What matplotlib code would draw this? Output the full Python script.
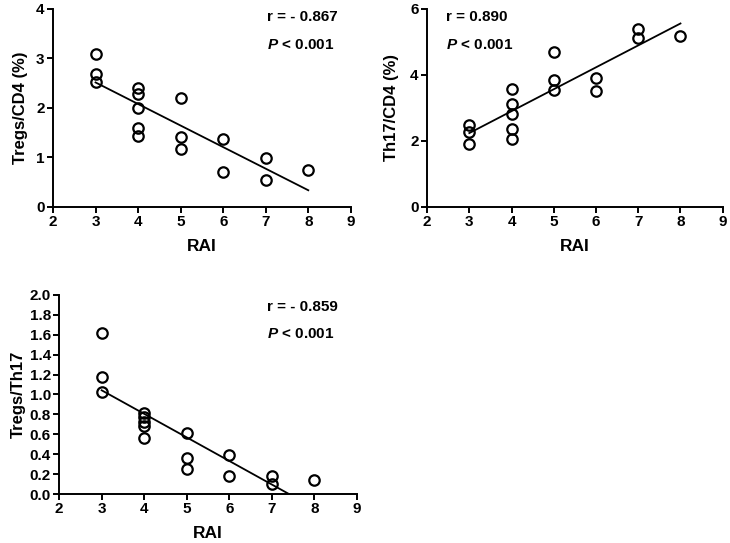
import numpy as np
import matplotlib
matplotlib.use("Agg")
import matplotlib.pyplot as plt
from matplotlib.ticker import FormatStrFormatter

plt.rcParams['font.family'] = ['Liberation Sans', 'DejaVu Sans']
plt.rcParams['font.weight'] = 'bold'
plt.rcParams['mathtext.fontset'] = 'custom'
plt.rcParams['mathtext.it'] = 'Liberation Sans:italic'
plt.rcParams['mathtext.rm'] = 'Liberation Sans:bold'

rai = [3, 3, 3, 4, 4, 4, 4, 4, 5, 5, 5, 6, 6, 7, 7, 8]
tregs_cd4 = [3.08, 2.69, 2.53, 2.40, 2.28, 1.99, 1.60, 1.44, 2.20, 1.41, 1.16, 1.37, 0.71, 0.98, 0.55, 0.74]
th17_cd4 = [2.47, 2.27, 1.89, 3.56, 3.11, 2.82, 2.35, 2.05, 4.69, 3.83, 3.54, 3.89, 3.51, 5.38, 5.11, 5.18]
tregs_th17 = [1.62, 1.18, 1.03, 0.81, 0.77, 0.72, 0.68, 0.56, 0.61, 0.36, 0.25, 0.39, 0.18, 0.18, 0.10, 0.14]

ylabels = ["Tregs/CD4 (%)", "Th17/CD4 (%)", "Tregs/Th17"]
r_texts = ["r = - 0.867", "r = 0.890", "r = - 0.859"]
yticks_list = [[0, 1, 2, 3, 4], [0, 2, 4, 6], [round(0.2 * i, 1) for i in range(11)]]
xticks = [2, 3, 4, 5, 6, 7, 8, 9]

fig = plt.figure(figsize=(7.30, 5.43), dpi=100)
positions = [
    [0.0726, 0.619, 0.408, 0.365],
    [0.585, 0.619, 0.405, 0.365],
    [0.081, 0.090, 0.408, 0.367],
]
text_pos = [(0.718, 0.96, 0.818), (0.064, 0.96, 0.818), (0.698, 0.941, 0.804)]
ylabelpads = [6, 8, 3]
series = [tregs_cd4, th17_cd4, tregs_th17]

for i in range(3):
    ax = fig.add_axes(positions[i])
    x = np.array(rai, dtype=float)
    y = np.array(series[i])
    m, b = np.polyfit(x, y, 1)
    xl = np.array([min(rai), max(rai)], dtype=float)
    ax.plot(xl, m * xl + b, color='black', lw=1.3, zorder=2)
    ax.plot(x, y, 'o', mfc='none', mec='black', mew=1.6, ms=7.5, zorder=3, clip_on=False)
    yt = yticks_list[i]
    ax.set_xlim(2, 9)
    ax.set_ylim(yt[0], yt[-1])
    ax.set_xticks(xticks)
    ax.set_yticks(yt)
    if i == 2:
        ax.yaxis.set_major_formatter(FormatStrFormatter('%.1f'))
    for s in ['top', 'right']:
        ax.spines[s].set_visible(False)
    for s in ['left', 'bottom']:
        ax.spines[s].set_linewidth(1.4)
    ax.tick_params(direction='out', length=4, width=1.4, labelsize=11, pad=2)
    for lab in ax.get_xticklabels() + ax.get_yticklabels():
        lab.set_fontweight('bold')
    ax.set_xlabel("RAI", fontsize=12.5, fontweight='bold', labelpad=7)
    ax.set_ylabel(ylabels[i], fontsize=12, fontweight='bold', labelpad=ylabelpads[i])
    tx, ty1, ty2 = text_pos[i]
    ax.text(tx, ty1, r_texts[i], transform=ax.transAxes, fontsize=11, fontweight='bold', va='center', ha='left')
    ax.text(tx, ty2, r"$P$ < 0.001", transform=ax.transAxes, fontsize=11,
            fontweight='bold', va='center', ha='left')

fig.savefig("out.png", dpi=100)
